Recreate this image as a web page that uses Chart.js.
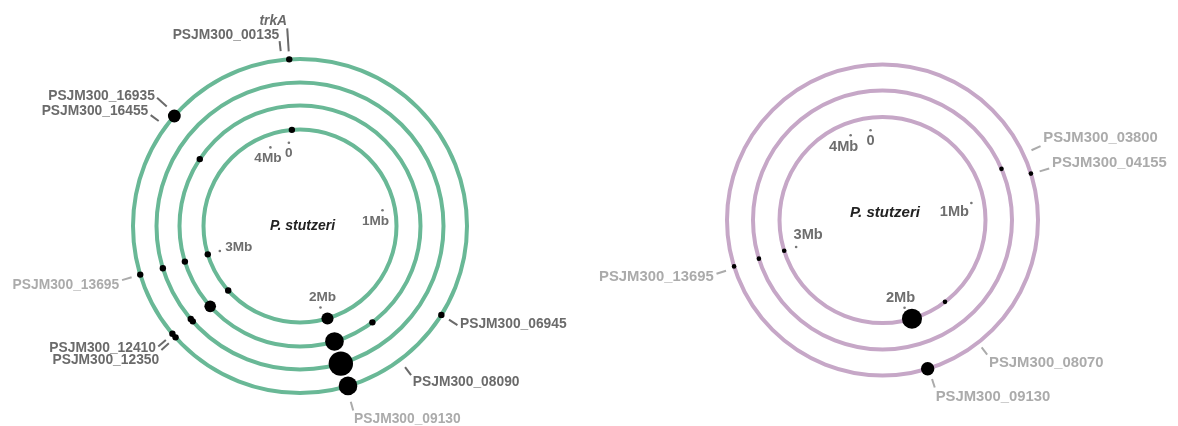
<!DOCTYPE html>
<html>
<head>
<meta charset="utf-8">
<script src="https://cdn.jsdelivr.net/npm/chart.js@4.4.1/dist/chart.umd.min.js"></script>
<style>
    html, body { margin: 0; padding: 0; background: #fff; }
    #wrap { position: relative; width: 1178px; height: 426px; }
</style>
</head>
<body>
<div id="wrap"><canvas id="genomeChart"></canvas></div>
<script>
// genome axis: length in Mb, and where position 0 sits (degrees clockwise from 12 o'clock)
const genomeLength = 4.15;
const originAngle = -7.6;
const tickPositions = [0, 1, 2, 3, 4];
const tickLabels = ['0', '1Mb', '2Mb', '3Mb', '4Mb'];
const organism = 'P. stutzeri';

// left panel hits: track index (0 = innermost), position in Mb, weight
const leftDotRing   = [0, 0, 0, 0,  1, 1, 1, 1, 1,  2, 2, 2, 2,  3, 3, 3, 3, 3, 3, 3];
const leftDotPos    = [0.032, 3.003, 2.717, 1.972,
                       3.589, 3.002, 2.718, 1.737, 1.971,
                       3.003, 2.734, 2.720, 1.972,
                       0.045, 3.675, 3.005, 2.737, 2.718, 1.970, 1.496];
const leftDotWeight = [1, 1, 1, 3.6,
                       1, 1, 3.3, 1, 8.5,
                       1, 1, 1, 14.5,
                       1, 4, 1, 1, 1, 8.5, 1];

const leftGenes     = ['trkA', 'PSJM300_00135', 'PSJM300_16935', 'PSJM300_16455', 'PSJM300_13695',
                       'PSJM300_12410', 'PSJM300_12350', 'PSJM300_06945', 'PSJM300_08090', 'PSJM300_09130'];
const leftGenePos   = [0.045, 0.015, 3.683, 3.622, 3.005, 2.735, 2.718, 1.496, 1.740, 1.977];
const leftGeneTone  = ['dark', 'dark', 'dark', 'dark', 'light', 'dark', 'dark', 'dark', 'dark', 'light'];

// right panel hits
const rightDotRing   = [0, 0, 0,  1, 1,  2, 2, 2];
const rightDotPos    = [3.000, 1.732, 1.971,  3.000, 0.857,  3.000, 0.925, 1.968];
const rightDotWeight = [1, 1, 19,  1, 1,  1, 1, 8.5];

const rightGenes    = ['PSJM300_03800', 'PSJM300_04155', 'PSJM300_13695', 'PSJM300_08070', 'PSJM300_09130'];
const rightGenePos  = [0.836, 0.927, 2.993, 1.726, 1.963];
const rightGeneTone = ['light', 'light', 'light', 'light', 'light'];

// ---- layout ----
const FONT = '"Liberation Sans", Arial, Helvetica, sans-serif';
const toneColor = { dark: '#6a6a6a', light: '#ababab' };

const panels = [
    {
        cx: 300, cy: 226, radii: [96.5, 120.5, 143.5, 167], ringColor: '#69b896', dotScale: 3.2,
        fontScale: 1, labelLift: 6, titleDy: 0,
        tickOffset: [[0, 10.5], [-7, 11], [2, -10], [19, -4], [-2.5, 11]],
        tweaks: {
            trkA: { start: 8, end: 31, dy: -1.5 }, PSJM300_16935: { start: 12, end: 25, dy: 2 },
            PSJM300_13695: { dy: 3 }, PSJM300_12410: { dy: -2 }, PSJM300_12350: { dy: 6 },
            PSJM300_06945: { dy: -4 }, PSJM300_08090: { dy: 2 },
            PSJM300_09130: { start: 16, end: 25, dy: 2.5 }
        },
        ring: leftDotRing, pos: leftDotPos, weight: leftDotWeight,
        genes: leftGenes, genePos: leftGenePos, geneTone: leftGeneTone
    },
    {
        cx: 882.5, cy: 220, radii: [103, 129.5, 155.5], ringColor: '#c6a7c7', dotScale: 2.3,
        fontScale: 1.075, labelLift: 10, titleDy: -7,
        tickOffset: [[0, 11], [-17, 9], [-4, -9.5], [12, -12], [-7, 12]],
        tweaks: {
            PSJM300_03800: { dy: -4 }, PSJM300_04155: { dy: -3 },
            PSJM300_08070: { start: 6, end: 15, dy: 0.5 }, PSJM300_09130: { start: 11, end: 20 }
        },
        ring: rightDotRing, pos: rightDotPos, weight: rightDotWeight,
        genes: rightGenes, genePos: rightGenePos, geneTone: rightGeneTone
    }
];

// leader line span beyond the outer track
const leaderDefault = { start: 9, end: 19, dy: 0 };

function angleOf(pos) {
    return (originAngle + pos / genomeLength * 360) * Math.PI / 180;
}

function polar(panel, radius, pos) {
    const a = angleOf(pos);
    return { x: panel.cx + radius * Math.sin(a), y: panel.cy - radius * Math.cos(a) };
}

function buildBubbles(panel) {
    return panel.pos.map((p, i) => {
        const pt = polar(panel, panel.radii[panel.ring[i]], p);
        return { x: pt.x, y: pt.y, r: panel.dotScale * Math.sqrt(panel.weight[i]) };
    });
}

const genomePlugin = {
    id: 'genomeRings',
    beforeDatasetsDraw(chart) {
        const { ctx } = chart;
        const sx = chart.scales.x, sy = chart.scales.y;
        const px = v => sx.getPixelForValue(v);
        const py = v => sy.getPixelForValue(v);

        panels.forEach(panel => {
            const cxp = px(panel.cx), cyp = py(panel.cy);
            const fs = panel.fontScale;
            ctx.save();
            // tracks
            ctx.strokeStyle = panel.ringColor;
            ctx.lineWidth = 4;
            panel.radii.forEach(r => {
                ctx.beginPath();
                ctx.arc(cxp, cyp, px(panel.cx + r) - cxp, 0, Math.PI * 2);
                ctx.stroke();
            });

            // Mb ticks inside the innermost track
            const tickR = panel.radii[0] - 12.5;
            ctx.font = 'bold ' + (13.6 * fs) + 'px ' + FONT;
            ctx.textAlign = 'center';
            ctx.textBaseline = 'middle';
            tickPositions.forEach((t, i) => {
                const pt = polar(panel, tickR, t);
                const off = panel.tickOffset[i];
                ctx.fillStyle = '#777';
                ctx.beginPath();
                ctx.arc(px(pt.x), py(pt.y), 1.3, 0, Math.PI * 2);
                ctx.fill();
                ctx.fillStyle = '#6e6e6e';
                ctx.fillText(tickLabels[i], px(pt.x) + off[0], py(pt.y) + off[1]);
            });

            ctx.fillStyle = '#222';
            ctx.font = 'italic bold ' + (14 * fs) + 'px ' + FONT;
            ctx.fillText(organism, cxp + 2.5, cyp + panel.titleDy);
            ctx.restore();
        });
    },
    afterDatasetsDraw(chart) {
        const { ctx } = chart;
        const sx = chart.scales.x, sy = chart.scales.y;
        const px = v => sx.getPixelForValue(v);
        const py = v => sy.getPixelForValue(v);

        panels.forEach(panel => {
            const outer = panel.radii[panel.radii.length - 1];
            ctx.save();
            ctx.lineWidth = 2;
            panel.genes.forEach((name, i) => {
                const lay = Object.assign({}, leaderDefault, panel.tweaks[name] || {});
                const a = angleOf(panel.genePos[i]);
                const s = polar(panel, outer + lay.start, panel.genePos[i]);
                const e = polar(panel, outer + lay.end, panel.genePos[i]);
                const color = toneColor[panel.geneTone[i]];
                ctx.strokeStyle = color;
                ctx.beginPath();
                ctx.moveTo(px(s.x), py(s.y));
                ctx.lineTo(px(e.x), py(e.y));
                ctx.stroke();

                // text sits just past the leader, pushed away from the ring
                const sin = Math.sin(a), cos = Math.cos(a);
                ctx.fillStyle = color;
                ctx.font = (name === 'trkA' ? 'italic ' : '') + 'bold ' + (13.8 * panel.fontScale) + 'px ' + FONT;
                ctx.textAlign = sin < 0 ? 'right' : 'left';
                ctx.textBaseline = 'middle';
                ctx.fillText(name, px(e.x) + 3 * sin, py(e.y) - panel.labelLift * cos + lay.dy);
            });
            ctx.restore();
        });
    }
};

const ctx = document.getElementById('genomeChart').getContext('2d');
new Chart(ctx, {
    type: 'bubble',
    data: {
        datasets: panels.map(panel => ({
            data: buildBubbles(panel),
            backgroundColor: '#000',
            borderWidth: 0,
            clip: false
        }))
    },
    options: {
        responsive: true,
        maintainAspectRatio: false,
        animation: false,
        events: [],
        layout: { padding: 0, autoPadding: false },
        scales: {
            x: { type: 'linear', min: 0, max: 1178, display: false },
            y: { type: 'linear', min: 0, max: 426, reverse: true, display: false }
        },
        plugins: { legend: { display: false }, tooltip: { enabled: false } }
    },
    plugins: [genomePlugin]
});
</script>
</body>
</html>
